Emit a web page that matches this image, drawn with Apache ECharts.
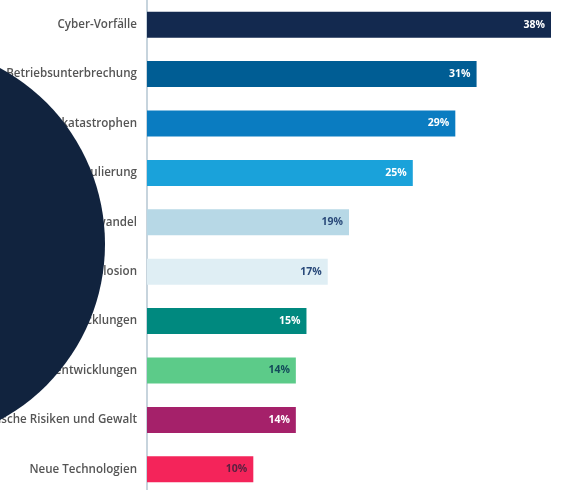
<!DOCTYPE html>
<html>
<head>
<meta charset="utf-8">
<script src="https://cdn.jsdelivr.net/npm/echarts@6/dist/echarts.min.js"></script>
<style>html,body{margin:0;padding:0;background:#fff}#c{width:564px;height:490px}</style>
</head>
<body>
<div id="c"></div>
<script>
const categories = ["Cyber-Vorfälle","Betriebsunterbrechung","Naturkatastrophen","Änderungen in Gesetzgebung und Regulierung","Klimawandel","Feuer, Explosion","Makroökonomische Entwicklungen","Marktentwicklungen","Politische Risiken und Gewalt","Neue Technologien"];
const values = [38,31,29,25,19,17,15,14,14,10];
const barColors = ["#13294f","#005d94","#0a7cc1","#1aa2da","#b7d8e6","#dfeef4","#00897f","#5ccb89","#a5216a","#f4245a"];
const labelColors = ["#ffffff","#ffffff","#ffffff","#ffffff","#2a4a7a","#2a4a7a","#ffffff","#134a5a","#ffffff","#5a2040"];

const chart = echarts.init(document.getElementById('c'));
chart.setOption({
  animation:false,
  grid:{left:147,top:0,height:494,width:404,containLabel:false,outerBoundsMode:'none'},
  xAxis:{type:'value',min:0,max:38,show:false},
  yAxis:{type:'category',data:categories,inverse:true,
    axisLine:{show:true,lineStyle:{color:'#b4c6d2',width:1.5}},
    axisTick:{show:false},
    axisLabel:{color:'#555',fontSize:11.6,fontWeight:600,fontFamily:'Open Sans',margin:10}},
  series:[{type:'bar',barWidth:26,
    data:values.map((v,i)=>({value:v,itemStyle:{color:barColors[i]},label:{color:labelColors[i]}})),
    label:{show:true,position:'insideRight',formatter:'{c}%',fontSize:10.5,fontWeight:'bold',fontFamily:'Open Sans',distance:6}}],
  graphic:[{type:'circle',shape:{cx:-95,cy:244,r:200},style:{fill:'#11233e'},z:100}]
});
</script>
</body>
</html>
